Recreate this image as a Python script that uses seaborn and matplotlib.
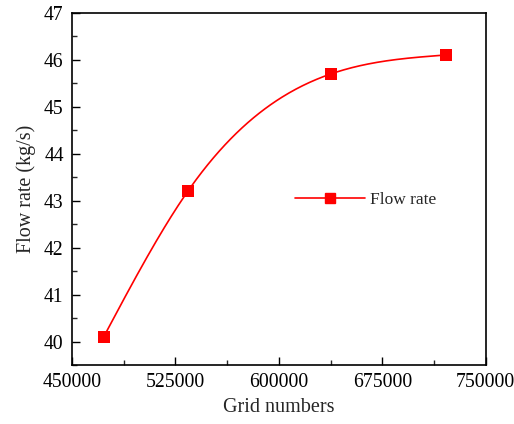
import numpy as np
import pandas as pd
import matplotlib
matplotlib.use("Agg")
import matplotlib.pyplot as plt
from matplotlib.ticker import MultipleLocator, AutoMinorLocator
from matplotlib.lines import Line2D
import seaborn as sns

grid_numbers = [473000, 534000, 638000, 721000]
flow_rate = [40.1, 43.2, 45.7, 46.1]
series_name = "Flow rate"
x_label = "Grid numbers"
y_label = "Flow rate (kg/s)"

sns.set_theme(style="ticks")
plt.rcParams["font.family"] = ["Liberation Serif", "DejaVu Serif"]
plt.rcParams["mathtext.fontset"] = "stix"


def natural_spline(x, y, n=300):
    x = np.asarray(x, float)
    y = np.asarray(y, float)
    k = len(x)
    h = np.diff(x)
    A = np.zeros((k, k))
    b = np.zeros(k)
    A[0, 0] = 1
    A[-1, -1] = 1
    for i in range(1, k - 1):
        A[i, i - 1] = h[i - 1]
        A[i, i] = 2 * (h[i - 1] + h[i])
        A[i, i + 1] = h[i]
        b[i] = 6 * ((y[i + 1] - y[i]) / h[i] - (y[i] - y[i - 1]) / h[i - 1])
    M = np.linalg.solve(A, b)
    xs = np.linspace(x[0], x[-1], n)
    idx = np.clip(np.searchsorted(x, xs) - 1, 0, k - 2)
    x0, x1 = x[idx], x[idx + 1]
    hh = x1 - x0
    ys = (M[idx] * (x1 - xs) ** 3 / (6 * hh) + M[idx + 1] * (xs - x0) ** 3 / (6 * hh)
          + (y[idx] / hh - M[idx] * hh / 6) * (x1 - xs)
          + (y[idx + 1] / hh - M[idx + 1] * hh / 6) * (xs - x0))
    return xs, ys


df = pd.DataFrame({"x": grid_numbers, "y": flow_rate})
sx, sy = natural_spline(grid_numbers, flow_rate)
curve = pd.DataFrame({"x": sx, "y": sy})

fig, ax = plt.subplots(figsize=(5.14, 4.24), dpi=100)
fig.subplots_adjust(left=0.14, right=0.945, top=0.97, bottom=0.139)

sns.lineplot(data=curve, x="x", y="y", ax=ax, color="#ff0000", lw=1.2, legend=False)
sns.scatterplot(data=df, x="x", y="y", ax=ax, marker="s", s=70, color="#ff0000",
                edgecolor="#ff0000", linewidth=0, zorder=5, legend=False)

ax.set_xlim(450000, 750000)
ax.set_ylim(39.5, 47)
ax.xaxis.set_major_locator(MultipleLocator(75000))
ax.xaxis.set_minor_locator(AutoMinorLocator(2))
ax.yaxis.set_major_locator(MultipleLocator(1))
ax.yaxis.set_minor_locator(AutoMinorLocator(2))
ax.tick_params(axis="both", which="major", direction="in", length=6, width=1,
               labelsize=14.2, colors="black", pad=6, top=False, right=False)
ax.tick_params(axis="both", which="minor", direction="in", length=3.5, width=1,
               top=False, right=False)
for s in ax.spines.values():
    s.set_visible(True)
    s.set_linewidth(1.2)
    s.set_color("black")

ax.set_xlabel(x_label, fontsize=14.5, labelpad=4)
ax.set_ylabel(y_label, fontsize=14.5, labelpad=6)

handle = Line2D([], [], color="#ff0000", lw=1.2, marker="s", markersize=7.5)
ax.legend([handle], [series_name], loc="center left", bbox_to_anchor=(0.54, 0.469),
          frameon=False, fontsize=12.5, handlelength=4.0, handletextpad=0.3,
          borderpad=0, borderaxespad=0)

fig.savefig("out.png", dpi=100)
